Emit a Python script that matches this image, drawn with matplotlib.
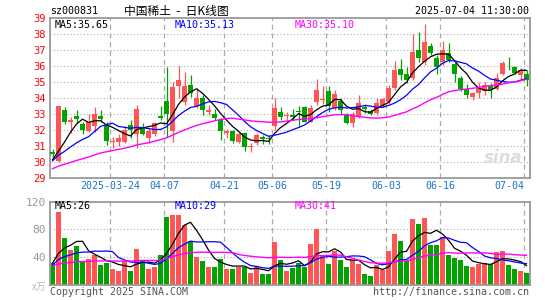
import numpy as np
import pandas as pd
import matplotlib
matplotlib.use("Agg")
import matplotlib.pyplot as plt
import matplotlib.transforms as mtransforms

# ---- data ----
dates = ["2025-03-24", "04-07", "04-21", "05-06", "05-19", "06-03", "06-16", "07-04"]
date_idx = [10, 19, 29, 37, 46, 56, 65, 79]

opens = [30.6, 30.05, 33.2, 32.5, 32.83, 32.33, 31.9, 32.2, 32.85, 32.3,
         31.2, 31.25, 31.2, 32.3, 31.7, 32.05, 31.5, 31.7, 32.85, 33.8,
         31.9, 34.7, 33.75, 34.8, 33.5, 34.0, 33.1, 33.0, 32.6, 31.8,
         31.9, 31.2, 31.78, 30.9, 31.15, 31.52, 31.5, 32.2, 33.1, 32.85,
         32.92, 33.15, 33.4, 32.5, 33.7, 33.85, 34.4, 33.35, 33.8, 33.0,
         32.4, 32.8, 33.4, 33.17, 33.02, 33.5, 33.75, 34.6, 35.77, 35.45,
         35.2, 37.0, 36.25, 37.2, 36.5, 36.2, 36.8, 36.1, 35.25, 34.52,
         34.06, 34.27, 34.42, 34.7, 34.55, 35.46, 36.0, 35.9, 35.42, 35.5]
highs = [30.8, 33.5, 33.4, 32.8, 33.2, 32.45, 33.0, 33.4, 33.25, 32.5,
         31.55, 31.7, 32.25, 32.6, 33.55, 32.4, 32.1, 32.5, 33.45, 35.9,
         35.0, 36.0, 35.6, 35.4, 34.6, 34.15, 33.55, 33.3, 32.7, 32.05,
         32.0, 31.85, 31.85, 31.15, 31.8, 31.67, 31.67, 33.95, 33.4, 33.1,
         33.3, 33.45, 33.45, 33.55, 35.15, 34.75, 34.7, 34.5, 33.95, 33.05,
         33.1, 34.15, 33.6, 33.3, 34.0, 34.0, 34.8, 36.3, 36.4, 35.9,
         38.0, 38.1, 38.6, 37.4, 36.67, 37.55, 37.4, 36.25, 35.35, 34.85,
         34.33, 35.0, 35.0, 34.9, 35.52, 36.3, 36.56, 35.94, 35.85, 35.75]
lows = [30.2, 29.96, 32.35, 31.8, 32.4, 31.7, 31.85, 31.85, 32.5, 31.05,
        30.85, 30.95, 31.15, 31.5, 30.85, 31.65, 31.15, 31.6, 32.6, 31.55,
        31.25, 33.95, 33.55, 34.05, 33.35, 32.9, 32.9, 32.6, 31.35, 31.5,
        31.15, 31.15, 30.65, 30.6, 31.05, 31.1, 31.1, 31.95, 32.6, 32.55,
        32.6, 32.2, 32.45, 32.45, 33.55, 33.6, 33.1, 33.25, 33.0, 32.35,
        32.15, 32.7, 33.05, 32.92, 32.92, 33.4, 33.6, 34.5, 35.1, 34.9,
        35.1, 36.25, 36.05, 36.67, 35.5, 36.05, 36.25, 35.0, 34.4, 33.95,
        33.85, 33.96, 34.17, 33.96, 34.48, 35.4, 35.73, 35.5, 35.1, 34.7]
closes = [30.45, 33.5, 32.5, 32.6, 32.65, 32.0, 32.45, 33.0, 32.65, 31.3,
          31.28, 31.45, 32.0, 31.95, 33.3, 31.75, 31.9, 32.4, 32.7, 33.0,
          34.65, 35.1, 34.7, 34.27, 34.0, 33.25, 33.2, 32.7, 31.9, 31.88,
          31.3, 31.7, 30.88, 30.95, 31.65, 31.38, 31.42, 33.35, 32.8, 32.92,
          32.78, 33.1, 32.5, 33.33, 34.45, 33.92, 33.45, 34.25, 33.25, 32.4,
          33.0, 33.65, 33.3, 33.0, 33.65, 33.9, 34.6, 35.75, 35.4, 35.1,
          36.87, 36.5, 37.45, 36.8, 35.9, 37.0, 36.35, 35.5, 34.52, 34.13,
          34.27, 34.58, 34.79, 34.48, 35.2, 36.15, 35.95, 35.56, 35.69, 35.12]
# closes before the first visible day (only used for the moving averages)
prior_closes = [28.7, 28.9, 29.2, 29.0, 28.8, 29.1, 29.3, 28.9, 29.0, 28.85,
                29.4, 29.7, 29.5, 29.8, 29.6, 29.9, 29.5, 29.7, 29.6, 29.65,
                29.9, 30.2, 29.8, 30.1, 29.85, 30.8, 29.7, 29.5, 30.1]

volumes = [31.8, 105.5, 67.7, 50.2, 56.0, 33.2, 37.1, 42.4, 28.4, 31.8,
           22.6, 19.6, 34.2, 19.6, 51.7, 34.2, 22.6, 26.0, 43.0, 98.2,
           101.1, 101.1, 86.1, 63.3, 40.0, 34.2, 25.5, 25.5, 37.1, 22.6,
           22.6, 25.5, 25.5, 16.2, 26.9, 15.3, 15.3, 60.9, 34.7, 20.1,
           24.5, 31.8, 26.0, 58.9, 79.8, 40.5, 30.3, 48.7, 35.6, 26.0,
           35.6, 30.3, 15.8, 12.9, 28.4, 21.1, 48.7, 72.5, 63.3, 34.2,
           95.3, 87.1, 96.8, 56.5, 56.5, 68.0, 42.0, 39.0, 35.6, 26.9,
           26.0, 30.3, 31.3, 30.3, 46.3, 48.7, 28.4, 22.6, 20.1, 16.7]
prior_volumes = [26, 28, 25, 27, 24, 29, 26, 27, 25, 28,
                 27, 26, 28, 25, 27, 26, 29, 25, 26, 27,
                 24, 26, 25, 27, 23, 35.5, 29, 30, 28.7]

RED = "#FF5555"
GREEN = "#00A300"
GRID = "#AAAAAA"
MONO = "DejaVu Sans Mono"

n = len(closes)
x = np.arange(n)
o = np.array(opens); c = np.array(closes); h = np.array(highs); l = np.array(lows)
up = c >= o
cols = [RED if u else GREEN for u in up]

allc = pd.Series(prior_closes + closes)
ma5 = allc.rolling(5).mean().values[-n:]
ma10 = allc.rolling(10).mean().values[-n:]
ma30 = allc.rolling(30).mean().values[-n:]
allv = pd.Series(prior_volumes + volumes)
vma5 = allv.rolling(5).mean().values[-n:]
vma10 = allv.rolling(10).mean().values[-n:]
vma30 = allv.rolling(30).mean().values[-n:]

fig = plt.figure(figsize=(5.45, 3.0), dpi=100)
W, H = 545, 300
ax = fig.add_axes([50 / W, (H - 177.5) / H, 480 / W, 160 / H])
axv = fig.add_axes([50 / W, (H - 284.5) / H, 480 / W, 83 / H])

xmin, xmax = -0.42, 79.58
line_x = [d - 0.42 for d in date_idx]

# ---- price panel ----
for yy in range(30, 39):
    ax.axhline(yy, color=GRID, lw=0.8, ls=(0, (1, 2)), zorder=0)
for lx in line_x:
    ax.axvline(lx, color=GRID, lw=0.9, ls=(0, (4, 3)), zorder=0)

ax.vlines(x, l, h, colors=cols, lw=0.9, zorder=2)
body_lo = np.minimum(o, c)
body_h = np.maximum(np.abs(c - o), 0.04)
ax.bar(x, body_h, bottom=body_lo, width=0.78, color=cols, lw=0, zorder=3)

ax.plot(x, ma5, color="black", lw=0.9, zorder=4)
ax.plot(x, ma10, color="#0000FF", lw=0.9, zorder=4)
ax.plot(x, ma30, color="#FF00FF", lw=1.0, zorder=4)

ax.set_xlim(xmin, xmax)
ax.set_ylim(29, 39)
ax.set_xticks([])
ax.set_yticks(range(29, 40))
ax.set_yticklabels([str(v) for v in range(29, 40)], color="red", family=MONO, fontsize=7.5)
ax.tick_params(axis="y", length=0, pad=3)

ax.text(0.01, 0.955, "MA5:35.65", transform=ax.transAxes, family=MONO, fontsize=7.2, color="black", va="center")
ax.text(0.26, 0.955, "MA10:35.13", transform=ax.transAxes, family=MONO, fontsize=7.2, color="#0000FF", va="center")
ax.text(0.51, 0.955, "MA30:35.10", transform=ax.transAxes, family=MONO, fontsize=7.2, color="#FF00FF", va="center")
ax.text(0.985, 0.12, "sina", transform=ax.transAxes, fontsize=12, fontweight="bold", style="italic",
        color="#DDDDDD", ha="right", va="center", zorder=1)

trans = mtransforms.blended_transform_factory(ax.transData, ax.transAxes)
for i, (lx, lab) in enumerate(zip(line_x, dates)):
    ha = "right" if i == len(dates) - 1 else "center"
    ax.text(lx, -0.053, lab, transform=trans, family=MONO, fontsize=7.2, color="#1874CD", ha=ha, va="center")

# ---- volume panel ----
for yy in (40, 80):
    axv.axhline(yy, color=GRID, lw=0.8, ls=(0, (1, 2)), zorder=0)
for lx in line_x:
    axv.axvline(lx, color=GRID, lw=0.9, ls=(0, (4, 3)), zorder=0)
axv.bar(x, volumes, width=0.82, color=cols, lw=0, zorder=2)
axv.plot(x, vma5, color="black", lw=0.9, zorder=3)
axv.plot(x, vma10, color="#0000FF", lw=0.9, zorder=3)
axv.plot(x, vma30, color="#FF00FF", lw=1.0, zorder=3)
axv.set_xlim(xmin, xmax)
axv.set_ylim(0, 120)
axv.set_xticks([])
axv.set_yticks([40, 80, 120])
axv.set_yticklabels(["40", "80", "120"], color="#999999", family=MONO, fontsize=8)
axv.tick_params(axis="y", length=0, pad=3)
axv.text(0.01, 0.945, "MA5:26", transform=axv.transAxes, family=MONO, fontsize=7.2, color="black", va="center")
axv.text(0.26, 0.945, "MA10:29", transform=axv.transAxes, family=MONO, fontsize=7.2, color="#0000FF", va="center")
axv.text(0.51, 0.945, "MA30:41", transform=axv.transAxes, family=MONO, fontsize=7.2, color="#FF00FF", va="center")

for a in (ax, axv):
    for s in a.spines.values():
        s.set_color("#999999")
        s.set_linewidth(1.3)

# ---- header / footer text ----
fig.text(50 / W, 1 - 11.5 / H, "sz000831", family=MONO, fontsize=7.2, color="black", va="center")
fig.text(176 / W, 1 - 11 / H, "中国稀土  -  日K线图", family=["Noto Sans CJK SC", "DejaVu Sans"],
         fontsize=8.5, color="black", ha="center", va="center")
fig.text(529 / W, 1 - 11.5 / H, "2025-07-04 11:30:00", family=MONO, fontsize=7.2, color="black",
         ha="right", va="center")
fig.text(46 / W, 1 - 287 / H, "x万", family=["Noto Sans CJK SC", "DejaVu Sans"], fontsize=7,
         color="#BBBBBB", ha="right", va="center")
fig.text(50 / W, 1 - 292 / H, "Copyright 2025 SINA.COM", family=MONO, fontsize=7.2, color="#555555", va="center")
fig.text(529 / W, 1 - 292 / H, "http://finance.sina.com.cn", family=MONO, fontsize=7.2, color="#555555",
         ha="right", va="center")

fig.savefig("out.png", dpi=100, facecolor="white")
